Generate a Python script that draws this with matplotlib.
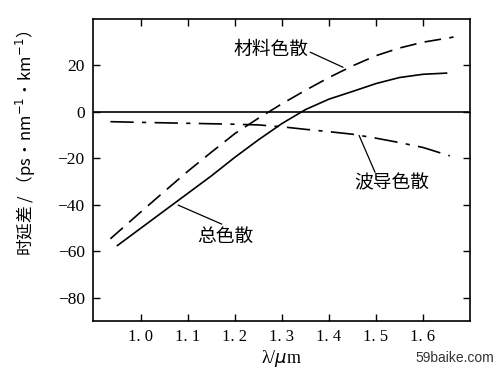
import matplotlib
matplotlib.use("Agg")
import matplotlib.pyplot as plt

# Data
mat_x = [0.935, 1.0, 1.05, 1.1, 1.15, 1.2, 1.25, 1.3, 1.35, 1.4, 1.45, 1.5, 1.55, 1.6, 1.665]
mat_y = [-54.6, -43, -34.2, -25.5, -17.3, -9.3, -2.7, 3.5, 9.3, 14.8, 19.8, 24.2, 27.5, 30, 32.2]

tot_x = [0.95, 1.0, 1.05, 1.1, 1.15, 1.2, 1.25, 1.3, 1.35, 1.4, 1.45, 1.5, 1.55, 1.6, 1.65]
tot_y = [-57.5, -50, -42.5, -35, -27.5, -19.5, -12, -5, 1, 5.5, 8.8, 12.2, 14.8, 16.2, 16.7]

wg_x = [0.935, 1.0, 1.1, 1.2, 1.25, 1.3, 1.35, 1.4, 1.45, 1.5, 1.55, 1.6, 1.657]
wg_y = [-4.2, -4.5, -4.9, -5.3, -5.6, -6.4, -7.5, -8.5, -9.6, -11.3, -13.2, -15.3, -18.9]

xticks = [1.0, 1.1, 1.2, 1.3, 1.4, 1.5, 1.6]
xtick_labels = ["1. 0", "1. 1", "1. 2", "1. 3", "1. 4", "1. 5", "1. 6"]
yticks = [20, 0, -20, -40, -60, -80]
ytick_labels = ["20", "0", "\u221220", "\u221240", "\u221260", "\u221280"]

cjk = ['Noto Sans CJK SC', 'DejaVu Sans']
serif = ['Liberation Serif', 'DejaVu Serif']

fig = plt.figure(figsize=(5.0, 3.72), dpi=100)
ax = fig.add_axes([0.186, 0.137, 0.754, 0.812])

ax.plot(mat_x, mat_y, color='black', lw=1.2, dashes=(10, 5))
ax.plot(tot_x, tot_y, color='black', lw=1.2)
ax.plot(wg_x, wg_y, color='black', lw=1.2, dashes=(14, 5, 2.5, 5))
ax.axhline(0, color='black', lw=1.2)

ax.set_xlim(0.898, 1.7)
ax.set_ylim(-90, 40)
ax.set_xticks(xticks)
ax.set_xticklabels(xtick_labels, family=serif, fontsize=12)
ax.set_yticks(yticks)
ax.set_yticklabels(ytick_labels, family=serif, fontsize=12.5)
ax.tick_params(direction='in', top=True, right=True, length=5, width=1, pad=6)
for s in ax.spines.values():
    s.set_linewidth(1.2)

ax.set_xlabel("λ/$\\mu$m", family=serif, fontsize=13, labelpad=2)
ax.set_ylabel("时延差 / （ps·nm$^{-1}$·km$^{-1}$）", family=cjk, fontsize=12)
ax.yaxis.set_label_coords(-0.146, 0.589)

# Labels and leader lines
lead = dict(arrowstyle='-', color='black', lw=0.9, shrinkA=0, shrinkB=0)
ax.text(1.276, 26.8, "材料色散", family=cjk, fontsize=13.5, ha='center', va='center')
ax.annotate("", xy=(1.43, 19.2), xytext=(1.36, 25.7), arrowprops=lead)
ax.text(1.533, -30.7, "波导色散", family=cjk, fontsize=13.5, ha='center', va='center')
ax.annotate("", xy=(1.464, -10.1), xytext=(1.498, -26), arrowprops=lead)
ax.text(1.18, -53.4, "总色散", family=cjk, fontsize=13.5, ha='center', va='center')
ax.annotate("", xy=(1.079, -40.1), xytext=(1.172, -48.3), arrowprops=lead)

fig.text(0.91, 0.038, "59baike.com", family=['Liberation Sans', 'DejaVu Sans'],
         fontsize=10, color='#333333', ha='center', va='center')

fig.savefig("out.png", dpi=100)
